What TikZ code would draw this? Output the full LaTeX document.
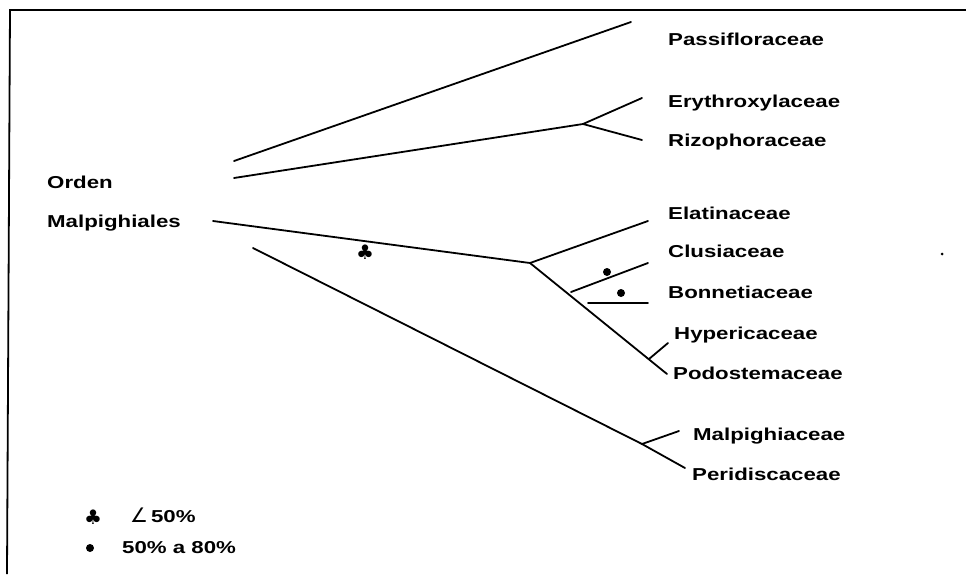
\documentclass[tikz,border=0pt]{standalone}
\usepackage{fontspec}
\newfontfamily\lab[FakeStretch=1.29]{Liberation Sans Bold}
\newfontfamily\djv{DejaVu Sans}
\begin{document}
\begin{tikzpicture}[x=1pt,y=-1pt,
  branch/.style={line width=1.8pt,line cap=round},
  frame/.style={line width=1.8pt},
  taxon/.style={anchor=base west,inner sep=0pt,font=\lab\fontsize{17.25}{20}\selectfont},
  supdot/.style={circle,fill=black,inner sep=0pt,minimum size=8pt},
  clubsym/.style={inner sep=0pt,font=\djv\fontsize{20}{22}\selectfont}]
\useasboundingbox (0,0) rectangle (966,574);
% frame
\coordinate (fTR) at (966,10);
\coordinate (fTL) at (10,10);
\coordinate (fBL) at (7,574);
\draw[frame] (fTR) -- (fTL) -- (fBL);
% tree coordinates
\coordinate (pA) at (234,161);
\coordinate (pT) at (631,22);
\coordinate (eA) at (234,178);
\coordinate (eJ) at (583,124);
\coordinate (eT) at (642,98);
\coordinate (rT) at (642,140);
\coordinate (mA) at (213,221);
\coordinate (mJ) at (530,263);
\coordinate (elT) at (648,221);
\coordinate (poT) at (667,374);
\coordinate (clA) at (571,292);
\coordinate (clT) at (648,263);
\coordinate (boA) at (588,303);
\coordinate (boT) at (648,303);
\coordinate (hyA) at (649,359);
\coordinate (hyT) at (668,343);
\coordinate (lA) at (253,248);
\coordinate (lJ) at (642,444);
\coordinate (peT) at (685,468);
\coordinate (maT) at (679,431);
% branches
\draw[branch] (pA) -- (pT);
\draw[branch] (eA) -- (eJ) -- (eT);
\draw[branch] (eJ) -- (rT);
\draw[branch] (mA) -- (mJ) -- (elT);
\draw[branch] (mJ) -- (poT);
\draw[branch] (clA) -- (clT);
\draw[branch] (boA) -- (boT);
\draw[branch] (hyA) -- (hyT);
\draw[branch] (lA) -- (lJ) -- (peT);
\draw[branch] (lJ) -- (maT);
% support marks
\node[clubsym] (club1) at (365,252) {♣};
\node[supdot] (d1) at (607,272) {};
\node[supdot] (d2) at (621,293) {};
\node[circle,fill=black,inner sep=0pt,minimum size=3pt] (speck) at (942,254) {};
% labels
\node[taxon] (passi) at (668,45) {Passifloraceae};
\node[taxon] (eryth) at (668,107) {Erythroxylaceae};
\node[taxon] (rizo) at (668,146) {Rizophoraceae};
\node[taxon] (elat) at (668,219) {Elatinaceae};
\node[taxon] (clus) at (668,257) {Clusiaceae};
\node[taxon] (bonn) at (668,298) {Bonnetiaceae};
\node[taxon] (hype) at (674,339) {Hypericaceae};
\node[taxon] (podo) at (673,379) {Podostemaceae};
\node[taxon] (malp) at (693,440) {Malpighiaceae};
\node[taxon] (peri) at (692,480.5) {Peridiscaceae};
\node[taxon] (orden) at (47,188) {Orden};
\node[taxon] (malpa) at (47,227) {Malpighiales};
% legend
\node[clubsym] (club2) at (93,517) {♣};
\node[taxon] (leg1) at (130,522) {{\djv\fontsize{20}{22}\selectfont ∠}\,50\%};
\node[supdot] (d3) at (90,548) {};
\node[taxon] (leg2) at (122,553.5) {50\% a 80\%};
\end{tikzpicture}
\end{document}
